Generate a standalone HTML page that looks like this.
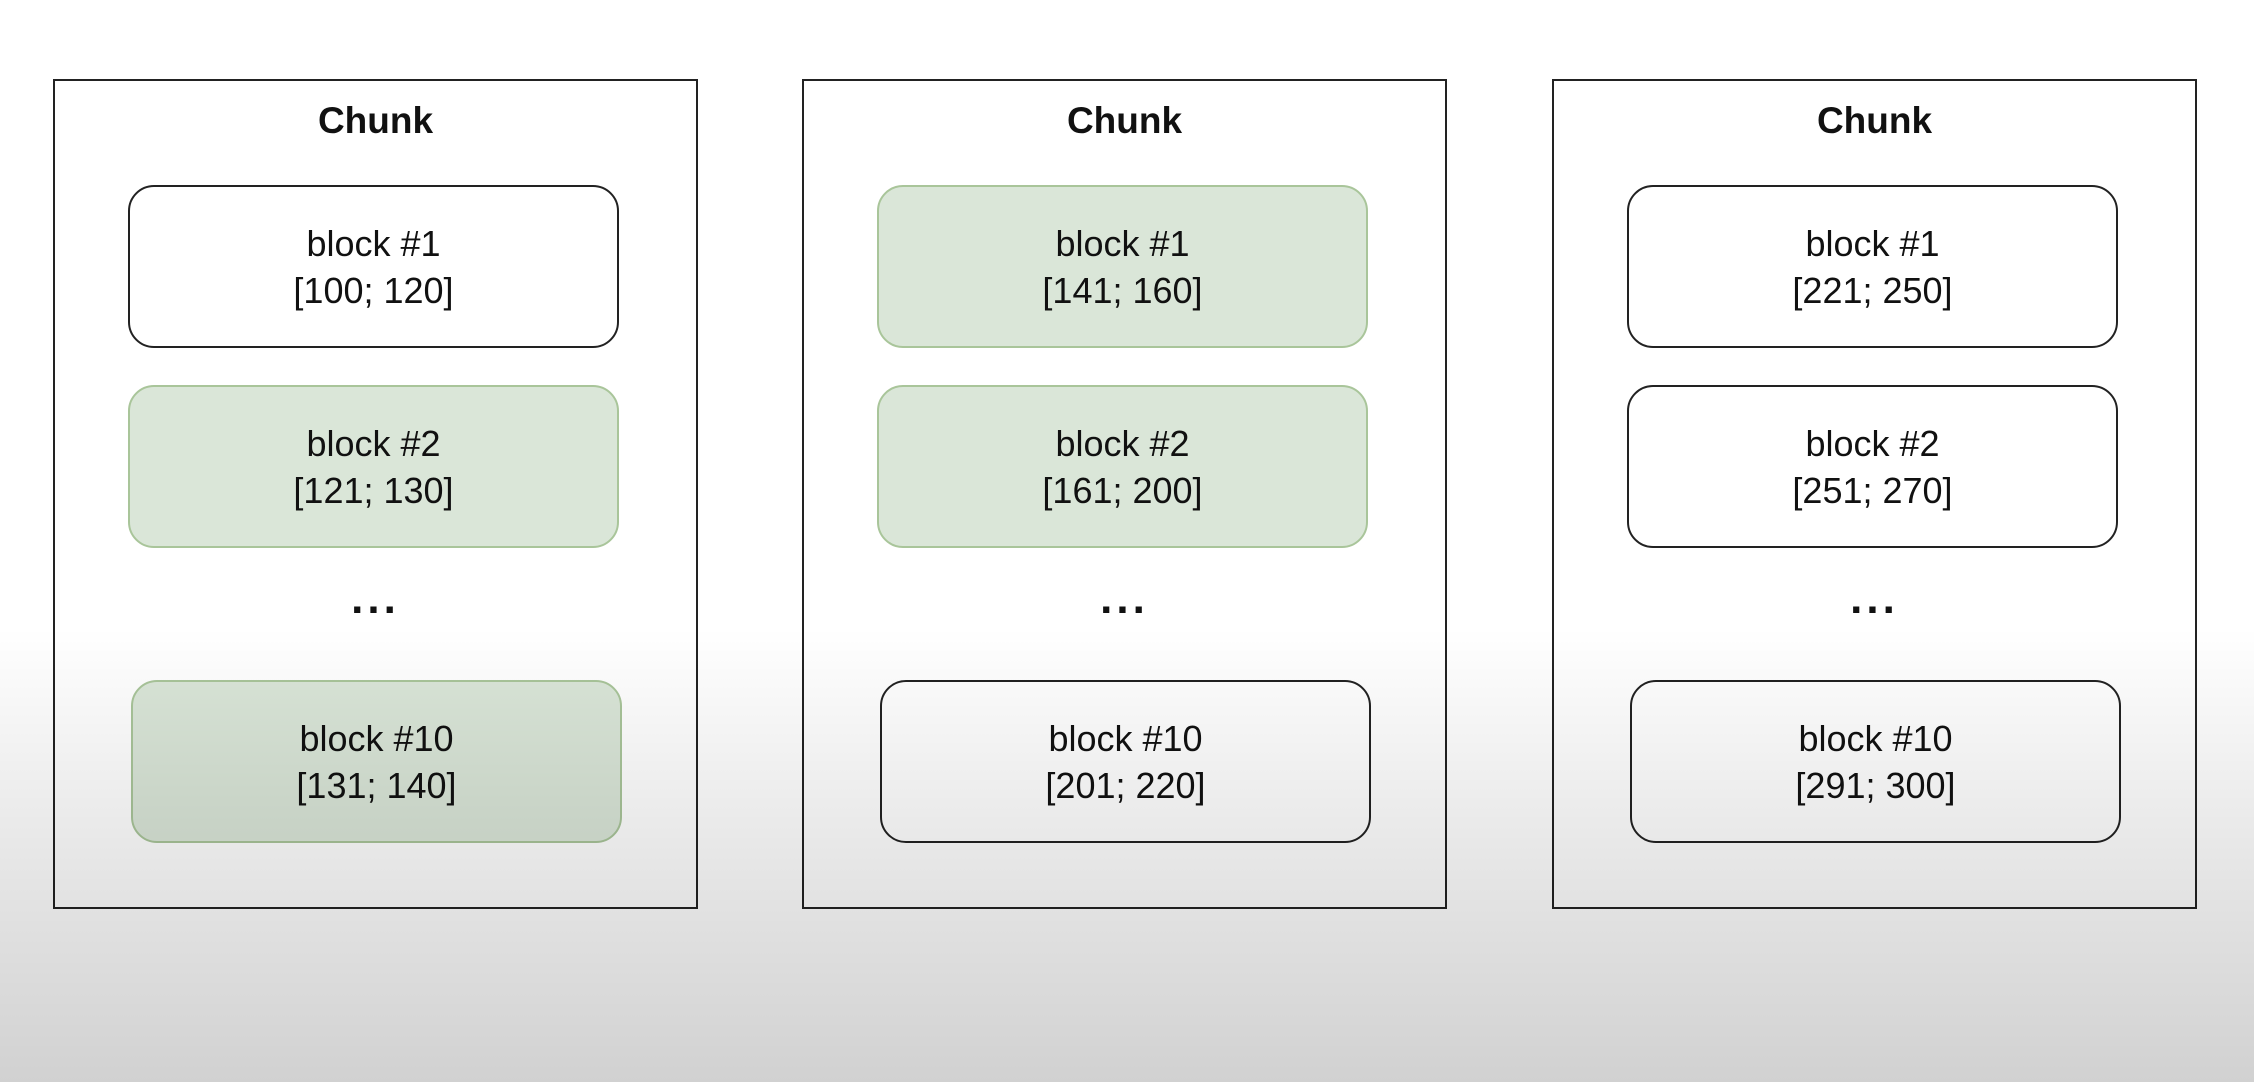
<!DOCTYPE html>
<html><head><meta charset="utf-8"><style>
html,body{margin:0;padding:0}
body{width:2254px;height:1082px;position:relative;overflow:hidden;background:#fff;font-family:"Liberation Sans",sans-serif;color:#111}
.chunk{position:absolute;top:79px;width:641px;height:826px;border:2px solid #222;box-sizing:content-box}
.title{position:absolute;width:100%;text-align:center;font-weight:bold;font-size:37px;left:0}
.block{position:absolute;width:487px;height:159px;border:2px solid #222;border-radius:26px;display:flex;flex-direction:column;justify-content:center;align-items:center;font-size:36px;line-height:47px}
.green{background:#dae6d8;border-color:#a9c59a}
.dots{position:absolute;width:100%;text-align:center;font-size:44px;font-weight:bold;letter-spacing:4px}
.overlay{position:absolute;left:0;top:0;width:2254px;height:1082px;pointer-events:none;background:linear-gradient(to bottom,rgba(0,0,0,0) 0%,rgba(0,0,0,0) 58%,rgba(0,0,0,0.08) 75%,rgba(0,0,0,0.18) 100%)}
</style></head><body>
<div id="root"></div>
<div class="overlay"></div>
<script>
const chunkLefts=[53,802,1552];
const blockLabels=["block #1","block #2","block #10"];
const ranges=[["[100; 120]","[121; 130]","[131; 140]"],["[141; 160]","[161; 200]","[201; 220]"],["[221; 250]","[251; 270]","[291; 300]"]];
const greens=[[false,true,true],[true,true,false],[false,false,false]];
const blockTops=[185,385,680];
const blockOffsets=[75,75,78];
const root=document.getElementById('root');
chunkLefts.forEach((cx,ci)=>{
  const c=document.createElement('div');
  c.className='chunk';c.style.left=cx+'px';
  
  
  root.appendChild(c);
  const t=document.createElement('div');
  t.className='title';t.style.top='19px';t.textContent='Chunk';
  
  
  c.appendChild(t);
  const d=document.createElement('div');
  d.className='dots';d.style.top='493px';d.textContent='...';
  
  
  c.appendChild(d);
  blockLabels.forEach((lb,bi)=>{
    const b=document.createElement('div');
    b.className='block'+(greens[ci][bi]?' green':'');
    b.style.left=(blockOffsets[bi]-2)+'px';
    b.style.top=(blockTops[bi]-81)+'px';
    b.innerHTML='<div>'+lb+'</div><div>'+ranges[ci][bi]+'</div>';
    
    
    c.appendChild(b);
  });
});
</script>
</body></html>
